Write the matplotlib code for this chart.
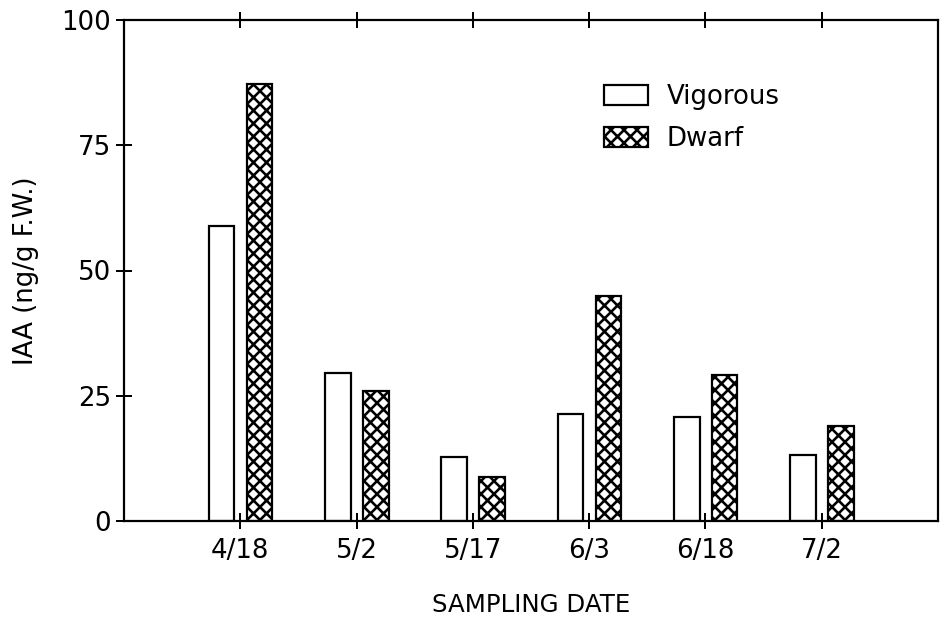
import numpy as np
import matplotlib
matplotlib.use("Agg")
import matplotlib.pyplot as plt

dates = ["4/18", "5/2", "5/17", "6/3", "6/18", "7/2"]
vigorous = [58.8, 29.5, 12.8, 21.3, 20.8, 13.2]
dwarf = [87.2, 25.9, 8.8, 45.0, 29.1, 19.0]

DPI = 78
px = 72.0 / DPI  # points per pixel

plt.rcParams["font.family"] = "DejaVu Sans"
plt.rcParams["hatch.linewidth"] = 2.4
plt.rcParams["hatch.color"] = "black"

fig = plt.figure(figsize=(948 / DPI, 620 / DPI), dpi=DPI)
ax = fig.add_axes([124 / 948, 1 - 521 / 620, (938 - 124) / 948, (521 - 20) / 620])

x = np.arange(1, len(dates) + 1)
w = 0.22
ax.bar(x - 0.16, vigorous, w, facecolor="white", edgecolor="black",
       linewidth=2.2 * px, label="Vigorous")
ax.bar(x + 0.165, dwarf, w, facecolor="white", edgecolor="black",
       linewidth=2.2 * px, hatch="xx", label="Dwarf")

ax.set_xlim(0, 7)
ax.set_ylim(0, 100)
ax.set_xticks(x)
ax.set_xticklabels(dates)
ax.set_yticks([0, 25, 50, 75, 100])

fs = 26 * px
for s in ax.spines.values():
  s.set_linewidth(2.2 * px)
ax.tick_params(axis="both", direction="inout", length=16 * px, width=2 * px,
               labelsize=fs, top=True, right=False)
ax.tick_params(axis="x", pad=9 * px)
ax.tick_params(axis="y", pad=5 * px)

ax.set_xlabel("SAMPLING DATE", fontsize=24.5 * px, labelpad=29 * px)
ax.set_ylabel("IAA (ng/g F.W.)", fontsize=fs, labelpad=22 * px)

ax.legend(loc="upper left", bbox_to_anchor=(604 / 948, 1 - 84 / 620),
          bbox_transform=fig.transFigure, frameon=False, fontsize=fs,
          handlelength=1.7, handleheight=0.8, handletextpad=0.7,
          labelspacing=0.6, borderaxespad=0, borderpad=0)

fig.savefig("out.png", dpi=DPI)
